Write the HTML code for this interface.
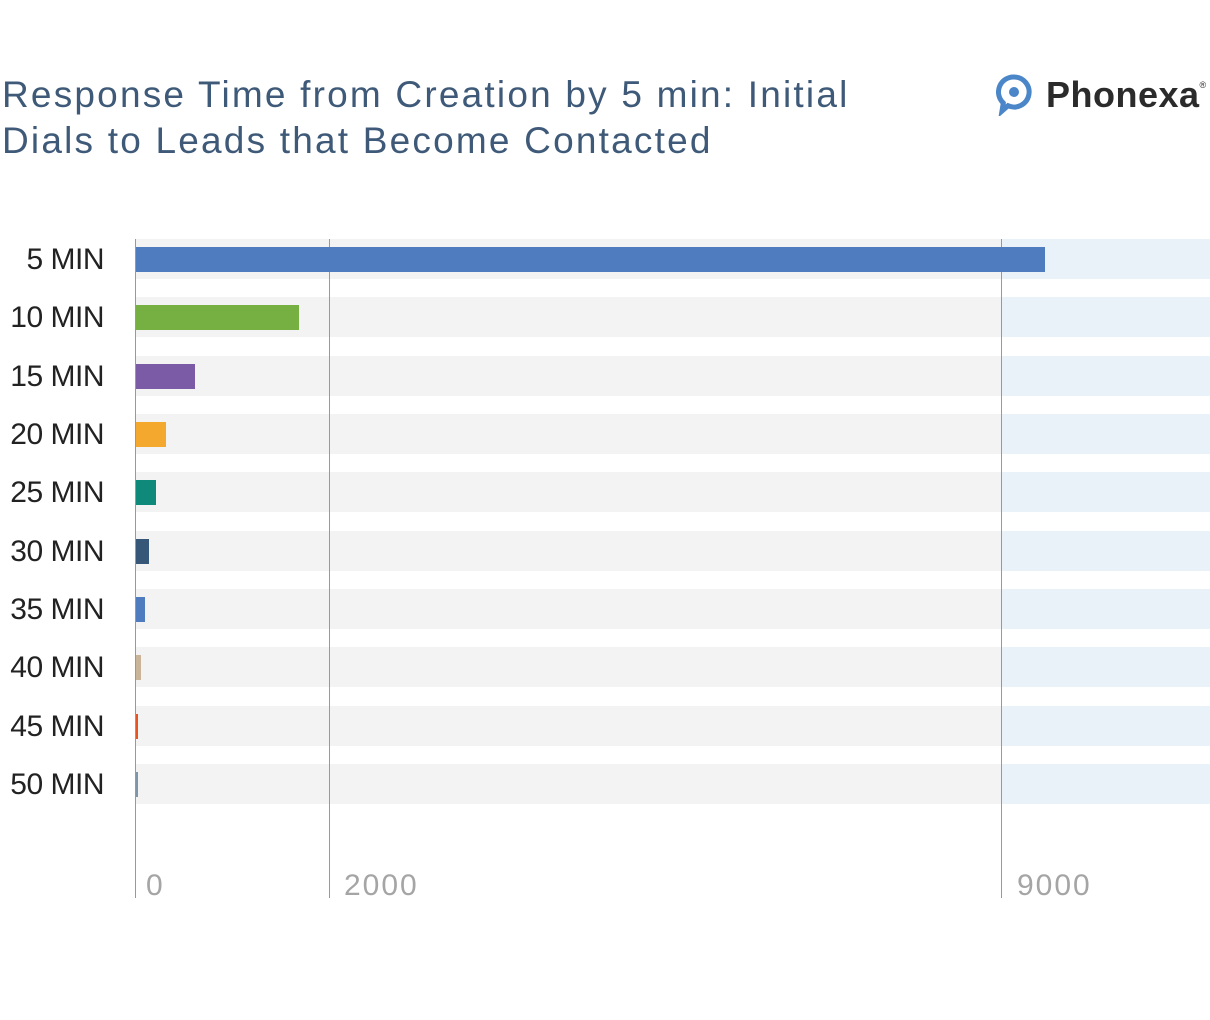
<!DOCTYPE html>
<html><head><style>
body{margin:0;width:1210px;height:1020px;background:#fff;position:relative;overflow:hidden;font-family:"Liberation Sans",sans-serif}
.t{position:absolute;left:2px;top:72px;font-size:37px;line-height:46px;color:#3e5a78;letter-spacing:2.2px;white-space:nowrap}
.logo{position:absolute;left:1046px;top:74px;font-size:36px;font-weight:bold;color:#2b2b2b;letter-spacing:0.5px}
.logo sup{font-size:9px;font-weight:normal;vertical-align:top;position:relative;top:6px}
.band{position:absolute;left:136px;width:865px;height:40px;background:#f3f3f3}
.bandb{position:absolute;left:1001px;width:209px;height:40px;background:#e9f2f9}
.bar{position:absolute;left:136px;height:25px}
.lbl{position:absolute;width:104px;text-align:right;left:0;font-size:30px;color:#222;line-height:30px;letter-spacing:-0.5px}
.v{position:absolute;width:1px;background:#999;top:239px;height:659px}
.x{position:absolute;top:869px;font-size:30px;color:#a5a5a5;letter-spacing:2px}
</style></head><body>
<div class="t">Response Time from Creation by 5 min: Initial<br>Dials to Leads that Become Contacted</div>
<svg style="position:absolute;left:996px;top:74px" width="36" height="42" viewBox="0 0 36 42"><path d="M18 3a15 15 0 1 1-6 28.7L6 37l1.3-8A15 15 0 0 1 18 3z" fill="none" stroke="#4a86c8" stroke-width="5"/><circle cx="18" cy="18" r="5" fill="#4a86c8"/></svg>
<div class="logo">Phonexa<sup>®</sup></div>
<div class="band" style="top:239px"></div><div class="bandb" style="top:239px"></div>
<div class="band" style="top:297px"></div><div class="bandb" style="top:297px"></div>
<div class="band" style="top:356px"></div><div class="bandb" style="top:356px"></div>
<div class="band" style="top:414px"></div><div class="bandb" style="top:414px"></div>
<div class="band" style="top:472px"></div><div class="bandb" style="top:472px"></div>
<div class="band" style="top:531px"></div><div class="bandb" style="top:531px"></div>
<div class="band" style="top:589px"></div><div class="bandb" style="top:589px"></div>
<div class="band" style="top:647px"></div><div class="bandb" style="top:647px"></div>
<div class="band" style="top:706px"></div><div class="bandb" style="top:706px"></div>
<div class="band" style="top:764px"></div><div class="bandb" style="top:764px"></div>
<div class="v" style="left:135px"></div>
<div class="v" style="left:329px"></div>
<div class="v" style="left:1001px"></div>
<div class="bar" style="top:247px;width:909px;background:#4f7bbf"></div>
<div class="bar" style="top:305px;width:163px;background:#76b043"></div>
<div class="bar" style="top:364px;width:59px;background:#7b5aa6"></div>
<div class="bar" style="top:422px;width:30px;background:#f5a82e"></div>
<div class="bar" style="top:480px;width:20px;background:#0f8a7a"></div>
<div class="bar" style="top:539px;width:13px;background:#365777"></div>
<div class="bar" style="top:597px;width:9px;background:#4f7bbf"></div>
<div class="bar" style="top:655px;width:5px;background:#c9b49a"></div>
<div class="bar" style="top:714px;width:2px;background:#e8541f"></div>
<div class="bar" style="top:772px;width:2px;background:#7f95a8"></div>
<div class="lbl" style="top:245px">5 MIN</div>
<div class="lbl" style="top:303px">10 MIN</div>
<div class="lbl" style="top:362px">15 MIN</div>
<div class="lbl" style="top:420px">20 MIN</div>
<div class="lbl" style="top:478px">25 MIN</div>
<div class="lbl" style="top:537px">30 MIN</div>
<div class="lbl" style="top:595px">35 MIN</div>
<div class="lbl" style="top:653px">40 MIN</div>
<div class="lbl" style="top:712px">45 MIN</div>
<div class="lbl" style="top:770px">50 MIN</div>
<div class="x" style="left:146px">0</div>
<div class="x" style="left:344px">2000</div>
<div class="x" style="left:1017px">9000</div>
</body></html>
